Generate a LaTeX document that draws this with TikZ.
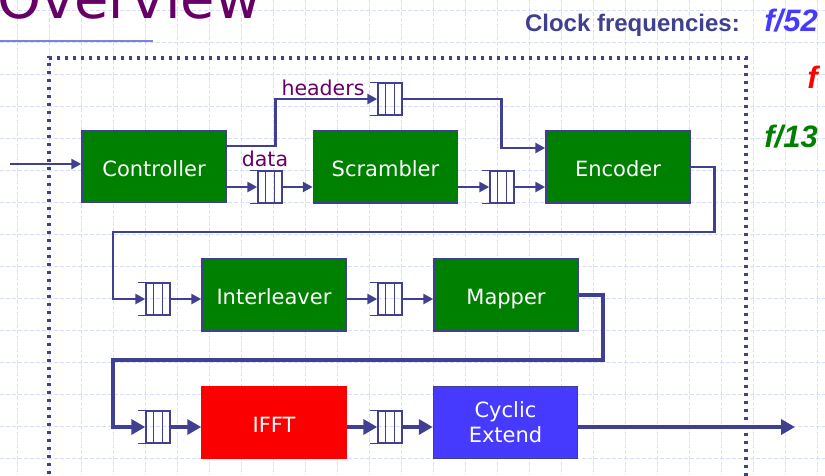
\documentclass[tikz,border=0pt]{standalone}
\usepackage{fontspec}
\usetikzlibrary{arrows.meta,calc}
\newfontfamily\dvs{DejaVu Sans}
\newfontfamily\lsans{Liberation Sans}
\definecolor{lc}{RGB}{64,64,144}
\definecolor{gridc}{RGB}{214,222,250}
\definecolor{boxgreen}{RGB}{0,128,0}
\definecolor{boxred}{RGB}{250,0,0}
\definecolor{boxblue}{RGB}{70,58,255}
\definecolor{ttl}{RGB}{102,0,102}
\definecolor{ulc}{RGB}{128,128,224}
\tikzset{
  blkbase/.style={draw=lc, line width=1.5pt, fill=boxgreen, minimum width=144pt, minimum height=72pt,
    inner sep=0pt, text=white, font=\dvs\fontsize{21}{25}\selectfont, align=center},
  blk/.style={blkbase, text height=19pt, text depth=0pt},
  fifo/.style={draw=lc, line width=1.4pt, minimum width=24pt, minimum height=32pt, inner sep=0pt},
  thin/.style={draw=lc, line width=2.7pt, -{Triangle[length=10pt,width=10pt]}},
  thick/.style={draw=lc, line width=4.2pt, -{Triangle[length=14pt,width=15pt]}},
  lbl/.style={text=ttl, font=\dvs\fontsize{20.5}{24}\selectfont, inner sep=0pt},
  freq/.style={font=\lsans\bfseries\itshape\fontsize{31}{36}\selectfont, inner sep=0pt, anchor=base east}
}
\begin{document}
\begin{tikzpicture}[x=1pt,y=-1pt]
\useasboundingbox (0,0) rectangle (825,475);
% background grid
\foreach \k in {0,...,25} \draw[gridc, line width=0.9pt, dash pattern=on 4pt off 2pt] (17+32*\k,0) -- (17+32*\k,475);
\foreach \k in {0,...,14} \draw[gridc, line width=0.9pt, dash pattern=on 4pt off 2pt] (0,10+32*\k) -- (825,10+32*\k);
% title
\node[anchor=base west, inner sep=0pt, text=ttl, font=\dvs\fontsize{56}{60}\selectfont] (title) at (-3,18) {Overview};
\draw[ulc, line width=1.3pt] (0,41) -- (153,41);
% dotted border
\draw[lc, line width=3.3pt, dash pattern=on 3.3pt off 4.7pt] (49,490) -- (49,58) -- (746,58) -- (746,490);
% clock frequencies
\node[anchor=base east, inner sep=0pt, text=lc, font=\lsans\bfseries\fontsize{24}{28}\selectfont] (clk) at (740,31) {Clock frequencies:};
\node[freq, text=boxblue] (f52) at (818,31) {f/52};
\node[freq, text=red] (f1) at (818,88) {f};
\node[freq, text=boxgreen] (f13) at (818,147) {f/13};
% blocks
\node[blk] (ctrl) at (154,166.5) {Controller};
\node[blk] (scr) at (385.5,167) {Scrambler};
\node[blk] (enc) at (618,167) {Encoder};
\node[blk] (il) at (274,295) {Interleaver};
\node[blk] (map) at (506,295) {Mapper};
\node[blk, fill=boxred, draw=boxred] (ifft) at (274,422.5) {IFFT};
\node[blkbase, fill=boxblue] (cyc) at (505.5,422.5) {Cyclic\\Extend};
% fifos
\node[fifo] (fh) at (390,99) {};
\node[fifo] (fd) at (270,187) {};
\node[fifo] (fs) at (502,187) {};
\node[fifo] (fi) at (158,299) {};
\node[fifo] (fm) at (390,299) {};
\node[fifo] (fa) at (158,427) {};
\node[fifo] (fb) at (390,427) {};
\foreach \f in {fh,fd,fs,fi,fm,fa,fb} {
  \draw[lc, line width=1.4pt] (\f.north west) -- ++(-7,0);
  \draw[lc, line width=1.4pt] (\f.south west) -- ++(-7,0);
  \draw[lc, line width=1.4pt] ($(\f.north west)!1/3!(\f.north east)$) -- ($(\f.south west)!1/3!(\f.south east)$);
  \draw[lc, line width=1.4pt] ($(\f.north west)!2/3!(\f.north east)$) -- ($(\f.south west)!2/3!(\f.south east)$);
}
% labels
\node[lbl, anchor=base] (hdr) at (323,95) {headers};
\node[lbl, anchor=base] (dat) at (265,166) {data};
% connectors
\coordinate (in) at (10,164);
\coordinate (w1) at (113,232);
\coordinate (w2) at (113,360);
\coordinate (out) at (795,427);
\draw[thin] (in) -- (in -| ctrl.west);
\draw[thin] (ctrl.east |- fd) -- (fd.west);
\draw[thin] (fd.east) -- (fd -| scr.west);
\draw[thin] ([yshift=20.5pt]ctrl.east) -- ++(49,0) |- (fh.west);
\draw[thin] (fh.east) -- ++(99,0) |- ([yshift=19pt]enc.west);
\draw[thin] (scr.east |- fs) -- (fs.west);
\draw[thin] (fs.east) -- (fs -| enc.west);
\draw[thin] (enc.east) -- ++(24,0) |- (w1) |- (fi.west);
\draw[thin] (fi.east) -- (fi -| il.west);
\draw[thin] (il.east |- fm) -- (fm.west);
\draw[thin] (fm.east) -- (fm -| map.west);
\draw[thick] (map.east) -- ++(24,0) |- (w2) |- (fa.west);
\draw[thick] (fa.east) -- (fa -| ifft.west);
\draw[thick] (ifft.east |- fb) -- (fb.west);
\draw[thick] (fb.east) -- (fb -| cyc.west);
\draw[thick] (cyc.east |- fb) -- (out);
\end{tikzpicture}
\end{document}
